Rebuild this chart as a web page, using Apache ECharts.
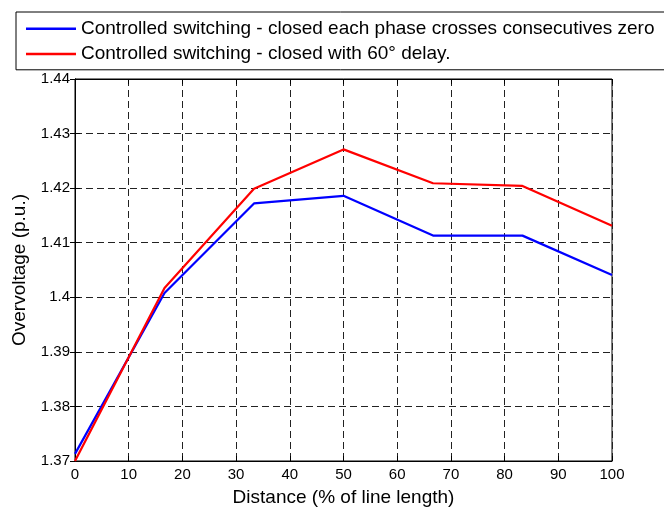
<!DOCTYPE html>
<html>
<head>
<meta charset="utf-8">
<script src="https://cdn.jsdelivr.net/npm/echarts@6/dist/echarts.min.js"></script>
<style>html,body{margin:0;padding:0;background:#fff}#c{width:664px;height:512px}</style>
</head>
<body>
<div id="c"></div>
<script>
const distances = [0, 16.67, 33.33, 50, 66.67, 83.33, 100];
const zeroCrossing = [1.3713, 1.4008, 1.4172, 1.4186, 1.4113, 1.4113, 1.4041];
const delay60 = [1.3700, 1.4017, 1.4199, 1.4271, 1.4209, 1.4204, 1.4131];
const seriesNames = [
  'Controlled switching - closed each phase crosses consecutives zero',
  'Controlled switching - closed with 60\u00b0 delay.'
];
const xTitle = 'Distance (% of line length)';
const yTitle = 'Overvoltage (p.u.)';

const FONT = '"Liberation Sans", Arial, sans-serif';
const pairs = (ys) => distances.map((x, i) => [x, ys[i]]);

const chart = echarts.init(document.getElementById('c'), null, {renderer: 'canvas'});
const gridLine = {show: true, lineStyle: {color: '#222', width: 1, type: [7, 4]}};
chart.setOption({
  animation: false,
  backgroundColor: '#fff',
  grid: {left: 75, right: 52, top: 79, bottom: 48, show: true, borderColor: '#000', borderWidth: 1, backgroundColor: 'transparent'},
  legend: {
    orient: 'vertical', left: 16, top: 12,
    padding: [4, 20, 3, 10], itemGap: 0,
    itemWidth: 50, itemHeight: 2.5, icon: 'rect',
    borderColor: '#000', borderWidth: 1, backgroundColor: '#fff',
    textStyle: {fontFamily: FONT, fontSize: 19, color: '#000', lineHeight: 25.4},
    data: seriesNames
  },
  xAxis: [{
    type: 'value', min: 0, max: 100, interval: 10,
    name: xTitle, nameLocation: 'middle', nameGap: 27,
    nameTextStyle: {fontFamily: FONT, fontSize: 19, color: '#000'},
    axisLine: {show: true, lineStyle: {color: '#000'}},
    axisTick: {show: true, inside: true, length: 5, lineStyle: {color: '#000'}},
    axisLabel: {fontFamily: FONT, fontSize: 15, color: '#000', margin: 6},
    splitLine: gridLine
  }, {
    type: 'value', position: 'top', min: 0, max: 100, interval: 10,
    axisLine: {show: true, lineStyle: {color: '#000'}},
    axisTick: {show: true, inside: true, length: 5, lineStyle: {color: '#000'}},
    axisLabel: {show: false}, splitLine: {show: false}
  }],
  yAxis: [{
    type: 'value', min: 1.37, max: 1.44, interval: 0.01,
    name: yTitle, nameLocation: 'middle', nameGap: 46,
    nameTextStyle: {fontFamily: FONT, fontSize: 19, color: '#000'},
    axisLine: {show: true, lineStyle: {color: '#000'}},
    axisTick: {show: true, inside: true, length: 5, lineStyle: {color: '#000'}},
    axisLabel: {fontFamily: FONT, fontSize: 15, color: '#000', margin: 5,
      formatter: (v) => String(+v.toFixed(2))},
    splitLine: gridLine
  }, {
    type: 'value', position: 'right', min: 1.37, max: 1.44, interval: 0.01,
    axisLine: {show: true, lineStyle: {color: '#000'}},
    axisTick: {show: true, inside: true, length: 5, lineStyle: {color: '#000'}},
    axisLabel: {show: false}, splitLine: {show: false}
  }],
  series: [
    {name: seriesNames[0], type: 'line', data: pairs(zeroCrossing), showSymbol: false, symbol: 'none',
      lineStyle: {color: '#0000ff', width: 2.2}, itemStyle: {color: '#0000ff'}},
    {name: seriesNames[1], type: 'line', data: pairs(delay60), showSymbol: false, symbol: 'none',
      lineStyle: {color: '#ff0000', width: 2.2}, itemStyle: {color: '#ff0000'}}
  ]
});
</script>
</body>
</html>
